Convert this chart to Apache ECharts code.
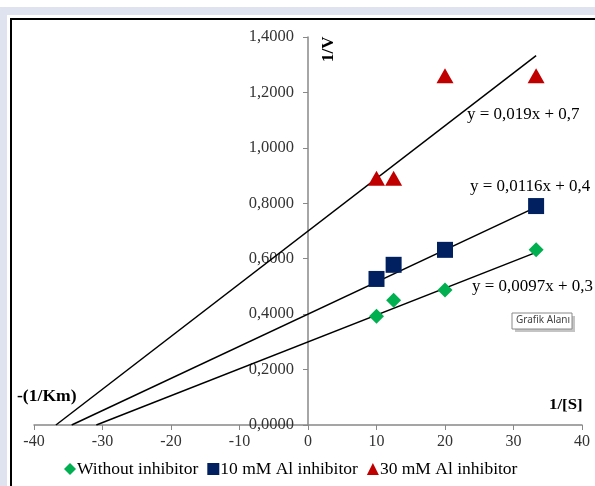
<!DOCTYPE html>
<html><head><meta charset="utf-8">
<script src="https://cdn.jsdelivr.net/npm/echarts@6/dist/echarts.min.js"></script>
<style>html,body{margin:0;padding:0;background:#fff;}#c{width:595px;height:486px;}</style>
</head><body><div id="c"></div>
<script>
var seriesNames = ['Without inhibitor', '10 mM Al inhibitor', '30 mM Al inhibitor'];
var xValues = [10, 12.5, 20, 33.3];
var withoutInhibitor = [0.392, 0.45, 0.487, 0.632];
var al10Inhibitor = [0.527, 0.578, 0.632, 0.79];
var al30Inhibitor = [0.89, 0.89, 1.26, 1.26];
var trendWithout = [[-30.9, 0], [33.3, 0.623]];
var trend10 = [[-34.5, 0], [33.3, 0.786]];
var trend30 = [[-36.8, 0], [33.3, 1.333]];
var equations = ['y = 0,0097x + 0,3', 'y = 0,0116x + 0,4', 'y = 0,019x + 0,7'];

function pairs(ys){ return xValues.map(function(x,i){ return [x, ys[i]]; }); }
var serif = '"Liberation Serif","Times New Roman",serif';
var chart = echarts.init(document.getElementById('c'), null, {renderer:'canvas'});
var trendStyle = {type:'line', symbol:'none', silent:true, lineStyle:{color:'#000', width:1.5}, z:2};
var gridLeft = 34, gridRight = 13;
var plotW = 595 - gridLeft - gridRight;
var yAxisOffset = -plotW * (0 - (-40)) / 80;
function txt(x, y, text, font, sx){
  return {type:'text', x:x, y:y, scaleX:sx||1, style:{text:text, font:font, fill:'#000'}};
}
chart.setOption({
  animation:false,
  backgroundColor:'#fff',
  grid:{left:gridLeft, right:gridRight, top:37, bottom:61, containLabel:false, outerBoundsMode:'none'},
  xAxis:{type:'value', min:-40, max:40, interval:10,
    axisLine:{onZero:true, lineStyle:{color:'#888', width:1.5}},
    axisTick:{show:true, length:5, inside:false, lineStyle:{color:'#888'}},
    splitLine:{show:false},
    axisLabel:{fontFamily:serif, fontSize:16, color:'#333', margin:9}},
  yAxis:{type:'value', min:0, max:1.4, interval:0.2, position:'left', offset:yAxisOffset,
    axisLine:{show:true, onZero:false, lineStyle:{color:'#888', width:1.5}},
    axisTick:{show:true, length:5, lineStyle:{color:'#888'}},
    splitLine:{show:false},
    axisLabel:{fontFamily:serif, fontSize:16.5, color:'#333', margin:14,
      formatter:function(v){ return v.toFixed(4).replace('.', ','); }}},
  legend:{bottom:3, left:59, itemGap:9, itemWidth:12, itemHeight:12,
    textStyle:{fontFamily:serif, fontSize:17.5, color:'#000', padding:[0,0,0,-4]},
    data:[{name:seriesNames[0], icon:'diamond'},{name:seriesNames[1], icon:'rect'},{name:seriesNames[2], icon:'triangle'}]},
  series:[
    Object.assign({name:'t1', data:trendWithout}, trendStyle),
    Object.assign({name:'t2', data:trend10}, trendStyle),
    Object.assign({name:'t3', data:trend30}, trendStyle),
    {name:seriesNames[0], type:'scatter', symbol:'diamond', symbolSize:[15,15], itemStyle:{color:'#00b050', opacity:1}, data:pairs(withoutInhibitor), z:3},
    {name:seriesNames[1], type:'scatter', symbol:'rect', symbolSize:[16,16], itemStyle:{color:'#002060', opacity:1}, data:pairs(al10Inhibitor), z:3},
    {name:seriesNames[2], type:'scatter', symbol:'triangle', symbolSize:[17,15], itemStyle:{color:'#c00000', opacity:1}, data:pairs(al30Inhibitor), z:3}
  ],
  graphic:[
    {type:'rect', z:-10, shape:{x:0, y:7, width:595, height:8}, style:{fill:'#dfe2ef'}},
    {type:'rect', z:-10, shape:{x:0, y:7, width:7, height:479}, style:{fill:'#dfe2ef'}},
    {type:'polyline', z:-5, shape:{points:[[11,486],[11,19],[595,19]]}, style:{stroke:'#000', lineWidth:2, fill:null}},
    {type:'text', x:320, y:62, rotation:Math.PI/2, style:{text:'1/V', font:'bold 17px '+serif, fill:'#000'}},
    txt(549, 398, '1/[S]', 'bold 15px '+serif, 1.12),
    txt(17, 389, '-(1/Km)', 'bold 16px '+serif, 1.1),
    txt(467, 107, equations[2], '16px '+serif, 1.06),
    txt(470, 179, equations[1], '16px '+serif, 1.06),
    txt(472, 279, equations[0], '16px '+serif, 1.06),
    {type:'rect', shape:{x:515, y:316, width:60, height:16}, style:{fill:'#c4c4c4'}},
    {type:'rect', shape:{x:512, y:313, width:60, height:16}, style:{fill:'#fff', stroke:'#8a8a8a', lineWidth:1}},
    {type:'text', x:516, y:315, style:{text:'Grafik Alanı', font:'10px "Noto Sans",sans-serif', fill:'#444'}}
  ]
});
</script></body></html>
